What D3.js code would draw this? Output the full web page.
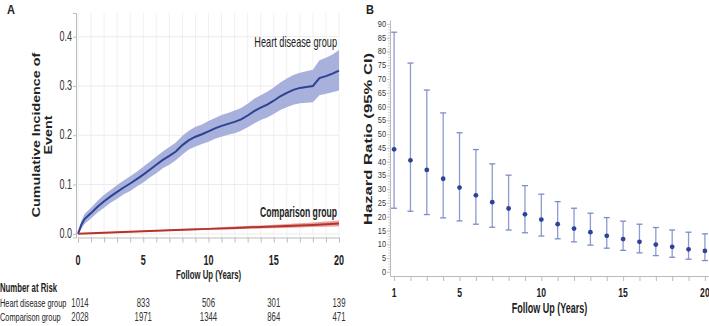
<!DOCTYPE html>
<html>
<head>
<meta charset="utf-8">
<script src="https://d3js.org/d3.v7.min.js"></script>
<style>
  body { margin: 0; background: #fff; }
  svg { display: block; }
  text { font-family: "Liberation Sans", Arial, sans-serif; fill: #222; }
  .bold { font-weight: bold; }
</style>
</head>
<body>
<svg width="709" height="326"></svg>
<script>
// ---- panel A: cumulative incidence ----
var kmTime = [0, 0.25, 0.5, 1, 1.5, 2, 2.5, 3, 3.5, 4, 4.5, 5, 5.5, 6, 6.5, 7, 7.5, 8, 8.5, 9, 9.5, 10,
  10.5, 11, 11.5, 12, 12.5, 13, 13.5, 14, 14.5, 15, 15.5, 16, 16.5, 17, 17.5, 18, 18.5, 19, 19.5, 20];
var heartEst = [0, 0.018, 0.03, 0.042, 0.055, 0.066, 0.076, 0.085, 0.094, 0.102, 0.111, 0.12, 0.13, 0.14, 0.15, 0.158,
  0.167, 0.18, 0.19, 0.197, 0.202, 0.208, 0.214, 0.219, 0.223, 0.227, 0.232, 0.24, 0.249, 0.256, 0.262, 0.27,
  0.279, 0.286, 0.292, 0.296, 0.298, 0.3, 0.316, 0.32, 0.325, 0.331];
var heartLower = [0, 0.010, 0.020, 0.031, 0.043, 0.053, 0.063, 0.071, 0.080, 0.087, 0.096, 0.104, 0.114, 0.123, 0.133,
  0.140, 0.149, 0.161, 0.171, 0.177, 0.182, 0.187, 0.193, 0.197, 0.201, 0.204, 0.209, 0.216, 0.224, 0.231, 0.236,
  0.243, 0.251, 0.257, 0.262, 0.265, 0.266, 0.267, 0.281, 0.284, 0.287, 0.291];
var heartUpper = [0, 0.026, 0.040, 0.053, 0.067, 0.079, 0.089, 0.099, 0.108, 0.117, 0.126, 0.136, 0.146, 0.157, 0.167,
  0.176, 0.185, 0.199, 0.209, 0.217, 0.222, 0.229, 0.235, 0.241, 0.245, 0.250, 0.255, 0.264, 0.274, 0.281, 0.288,
  0.297, 0.307, 0.315, 0.322, 0.327, 0.330, 0.333, 0.352, 0.357, 0.364, 0.373];

var compTime = [0, 2, 4, 6, 8, 10, 12, 14, 16, 18, 20];
var compEst = [0, 0.002, 0.004, 0.006, 0.008, 0.010, 0.012, 0.014, 0.016, 0.018, 0.021];
var compLower = [0, 0.001, 0.003, 0.005, 0.006, 0.008, 0.009, 0.011, 0.012, 0.014, 0.015];
var compUpper = [0, 0.003, 0.005, 0.007, 0.010, 0.012, 0.015, 0.017, 0.020, 0.023, 0.027];

var riskTimes = [0, 5, 10, 15, 20];
var heartRisk = [1014, 833, 506, 301, 139];
var compRisk = [2028, 1971, 1344, 864, 471];

// ---- panel B: hazard ratios by year ----
var hrYear = [1, 2, 3, 4, 5, 6, 7, 8, 9, 10, 11, 12, 13, 14, 15, 16, 17, 18, 19, 20];
var hrEst = [44.5, 40.5, 37, 33.8, 30.6, 27.8, 25.3, 23, 20.9, 19, 17.3, 15.7, 14.4, 13.1, 11.9, 10.9, 9.9, 9.1, 8.2, 7.6];
var hrLower = [23.1, 22, 20.8, 19.6, 18.5, 17.3, 16.2, 15.2, 14.2, 13, 12, 10.9, 9.7, 8.6, 7.8, 6.9, 5.9, 5.3, 4.6, 4.1];
var hrUpper = [87, 75.8, 66, 57.7, 50.5, 44.4, 39.2, 35.1, 31.3, 28.2, 25.5, 23.1, 21.3, 19.7, 18.4, 17.3, 16.1, 15.2, 14.4, 13.8];

var svg = d3.select("svg");
var NARROW = 0.82;

// text squeezed sideways / drawn taller than wide, like the source figure
function label(parent, x, y, s, size, opts) {
  opts = opts || {};
  var sx = opts.wide ? 1 : NARROW, sy = opts.sy || 1.3;
  var tf = "translate(" + x + "," + y + ")" +
    (opts.rotate ? " rotate(-90) scale(" + sy + "," + sx + ")" : " scale(" + sx + "," + sy + ")");
  var t = parent.append("g").attr("transform", tf)
    .append("text").text(s)
    .attr("font-size", size)
    .attr("text-anchor", opts.anchor || "start");
  if (opts.bold) t.attr("class", "bold");
  if (opts.fill) t.style("fill", opts.fill);
  return t;
}

// ================= A =================
var xA = d3.scaleLinear().domain([0, 20]).range([78, 339]);
var yA = d3.scaleLinear().domain([-0.0075, 0.448]).range([237.5, 13]);

var gA = svg.append("g");

// grid
gA.append("g").selectAll("line").data(d3.range(0, 21)).join("line")
  .attr("x1", d => xA(d)).attr("x2", d => xA(d))
  .attr("y1", yA.range()[1]).attr("y2", yA.range()[0])
  .attr("stroke", "#f0f0f0").attr("stroke-width", 1);
gA.append("g").selectAll("line").data([0, 0.1, 0.2, 0.3, 0.4]).join("line")
  .attr("x1", xA(0)).attr("x2", xA(20))
  .attr("y1", d => yA(d)).attr("y2", d => yA(d))
  .attr("stroke", "#ececec").attr("stroke-width", 1);

var heartData = kmTime.map((t, i) => ({t: t, est: heartEst[i], lo: heartLower[i], hi: heartUpper[i]}));
var compData = compTime.map((t, i) => ({t: t, est: compEst[i], lo: compLower[i], hi: compUpper[i]}));

var band = d3.area().x(d => xA(d.t)).y0(d => yA(d.lo)).y1(d => yA(d.hi));
var line = d3.line().x(d => xA(d.t)).y(d => yA(d.est));

gA.append("path").datum(heartData).attr("d", band).attr("fill", "#a7b1dc");
gA.append("path").datum(compData).attr("d", band).attr("fill", "#eba3a3");
gA.append("path").datum(heartData).attr("d", line)
  .attr("fill", "none").attr("stroke", "#2e4193").attr("stroke-width", 2);
gA.append("path").datum(compData).attr("d", line)
  .attr("fill", "none").attr("stroke", "#b8322c").attr("stroke-width", 2);

// axes
var axA_x = gA.append("g").attr("transform", "translate(0," + yA.range()[0] + ")")
  .call(d3.axisBottom(xA).tickValues(d3.range(0, 21)).tickSize(5).tickFormat(""));
var axA_y = gA.append("g").attr("transform", "translate(" + (xA(0) - 2) + ",0)")
  .call(d3.axisLeft(yA).tickValues([0, 0.1, 0.2, 0.3, 0.4]).tickSize(3).tickFormat(""));
[axA_x, axA_y].forEach(function (a) {
  a.select(".domain").attr("stroke", "#bbb");
  a.selectAll(".tick line").attr("stroke", "#bbb");
});

[0, 0.1, 0.2, 0.3, 0.4].forEach(function (v) {
  label(gA, xA(0) - 6, yA(v) + 4, d3.format(".1f")(v), 11, {anchor: "end", sy: 1.35, fill: "#333"});
});
[0, 5, 10, 15, 20].forEach(function (v) {
  label(gA, xA(v), 265, v, 11, {anchor: "middle", bold: true, sy: 1.25});
});
label(gA, xA(10), 279, "Follow Up (Years)", 9.5, {anchor: "middle", bold: true, sy: 1.4});

label(gA, 40, 135, "Cumulative Incidence of", 11, {anchor: "middle", bold: true, wide: true, rotate: true, sy: 1.3});
label(gA, 52, 135, "Event", 11, {anchor: "middle", bold: true, wide: true, rotate: true, sy: 1.3});
label(gA, 7, 14, "A", 11, {bold: true, wide: true, sy: 1.1});

label(gA, 337, 47, "Heart disease group", 11.2, {anchor: "end", sy: 1.25});
label(gA, 337, 217, "Comparison group", 10.5, {anchor: "end", bold: true, sy: 1.35});

// number at risk
label(gA, 0, 292, "Number at Risk", 9.5, {bold: true, sy: 1.3});
label(gA, 0, 307, "Heart disease group", 9, {sy: 1.3});
label(gA, 0, 321, "Comparison group", 9, {sy: 1.3});
riskTimes.forEach(function (t, i) {
  label(gA, xA(t) + (i === 0 ? 2 : 0), 307, heartRisk[i], 9.5, {anchor: "middle", sy: 1.3, fill: "#333"});
  label(gA, xA(t) + (i === 0 ? 2 : 0), 321, compRisk[i], 9.5, {anchor: "middle", sy: 1.3, fill: "#333"});
});

// ================= B =================
var xB = d3.scaleLinear().domain([0.75, 20.25]).range([390, 709]);
var yB = d3.scaleLinear().domain([-1.5, 91.5]).range([276, 19.8]);
var gB = svg.append("g");

var axB_x = gB.append("g").attr("transform", "translate(0," + yB.range()[0] + ")")
  .call(d3.axisBottom(xB).tickValues(hrYear).tickSize(5).tickSizeOuter(0).tickFormat(""));
var axB_y = gB.append("g").attr("transform", "translate(" + xB.range()[0] + ",0)")
  .call(d3.axisLeft(yB).tickValues(d3.range(0, 91, 5)).tickSize(3).tickSizeOuter(0).tickFormat(""));
gB.append("g").attr("transform", "translate(" + xB.range()[0] + ",0)")
  .call(d3.axisLeft(yB).tickValues(d3.range(0, 91, 1)).tickSize(2).tickSizeOuter(0).tickFormat(""))
  .call(g => g.select(".domain").remove())
  .selectAll(".tick line").attr("stroke", "#d4d4d4");
[axB_x, axB_y].forEach(function (a) {
  a.select(".domain").attr("stroke", "#bbb");
  a.selectAll(".tick line").attr("stroke", "#bbb");
});

d3.range(0, 91, 5).forEach(function (v) {
  label(gB, xB.range()[0] - 4, yB(v) + 3, v, 9, {anchor: "end", sy: 1.1, fill: "#333"});
});
[1, 5, 10, 15, 20].forEach(function (v) {
  label(gB, xB(v), 297, v, 10.5, {anchor: "middle", bold: true, sy: 1.3});
});
label(gB, xB(10.5), 313, "Follow Up (Years)", 11, {anchor: "middle", bold: true, sy: 1.4});
label(gB, 372, 139, "Hazard Ratio (95% CI)", 11.5, {anchor: "middle", bold: true, wide: true, rotate: true, sy: 1.45});
label(gB, 366, 14, "B", 11, {bold: true, wide: true, sy: 1.1});

var hrData = hrYear.map((y, i) => ({y: y, est: hrEst[i], lo: hrLower[i], hi: hrUpper[i]}));
var bars = gB.append("g").selectAll("g").data(hrData).join("g");
bars.append("line")
  .attr("x1", d => xB(d.y)).attr("x2", d => xB(d.y))
  .attr("y1", d => yB(d.lo)).attr("y2", d => yB(d.hi))
  .attr("stroke", "#8d9ad2").attr("stroke-width", 1.3);
bars.selectAll(".cap").data(d => [[d.y, d.lo], [d.y, d.hi]]).join("line")
  .attr("x1", d => xB(d[0]) - 3).attr("x2", d => xB(d[0]) + 3)
  .attr("y1", d => yB(d[1])).attr("y2", d => yB(d[1]))
  .attr("stroke", "#7d8cc9").attr("stroke-width", 1.3);
bars.append("circle")
  .attr("cx", d => xB(d.y)).attr("cy", d => yB(d.est))
  .attr("r", 2.4).attr("fill", "#2f4395");
</script>
</body>
</html>
